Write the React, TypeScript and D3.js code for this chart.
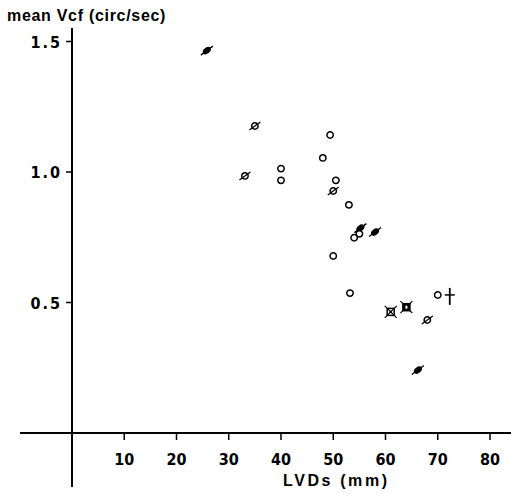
import React, { useEffect, useRef } from 'react';
import * as d3 from 'd3';

// LVDs (mm), mean Vcf (circ/sec), marker kind
const lvds = [25.8, 35.0, 33.1, 40.0, 40.0, 49.4, 48.0, 50.5, 50.0, 53.0, 55.2, 55.0, 54.0, 58.0, 50.0, 53.2, 61.0, 64.0, 68.0, 70.0, 66.2];
const vcf = [1.465, 1.176, 0.985, 1.013, 0.968, 1.142, 1.054, 0.968, 0.927, 0.874, 0.785, 0.763, 0.748, 0.77, 0.678, 0.536, 0.464, 0.482, 0.433, 0.529, 0.241];
const kinds = ['filledSlash', 'slash', 'slash', 'open', 'open', 'open', 'open', 'open', 'slash', 'open', 'filledSlash', 'open', 'open', 'filledSlash', 'open', 'open', 'xsq', 'xsqFilled', 'slash', 'open', 'filledSlash'];
const daggerPoint = [72.3, 0.529];

const xTicks = [10, 20, 30, 40, 50, 60, 70, 80];
const yTicks = [0.5, 1.0, 1.5];

const App = () => {
  const ref = useRef(null);

  useEffect(() => {
    const svg = d3.select(ref.current);
    svg.selectAll('*').remove();

    const x = d3.scaleLinear().domain([0, 80]).range([72, 490]);
    const y = d3.scaleLinear().domain([0, 1.5]).range([433, 41.5]);
    const font = "'Liberation Sans Narrow', 'DejaVu Sans Condensed', 'Liberation Sans', sans-serif";

    // axes lines
    svg.append('line').attr('x1', 20).attr('x2', 511).attr('y1', y(0)).attr('y2', y(0))
      .attr('stroke', 'black').attr('stroke-width', 2);
    svg.append('line').attr('x1', x(0)).attr('x2', x(0)).attr('y1', 28).attr('y2', 487)
      .attr('stroke', 'black').attr('stroke-width', 2);

    xTicks.forEach(t => {
      svg.append('line').attr('x1', x(t)).attr('x2', x(t)).attr('y1', y(0)).attr('y2', y(0) + 7)
        .attr('stroke', 'black').attr('stroke-width', 1.5);
      svg.append('text').attr('x', x(t)).attr('y', 465).attr('text-anchor', 'middle')
        .attr('font-family', font).attr('font-weight', 'bold').attr('font-size', 16)
        .text(t);
    });

    yTicks.forEach(t => {
      svg.append('line').attr('x1', x(0) - 6).attr('x2', x(0)).attr('y1', y(t)).attr('y2', y(t))
        .attr('stroke', 'black').attr('stroke-width', 1.5);
      svg.append('text').attr('x', 62).attr('y', y(t) + 6).attr('text-anchor', 'end')
        .attr('font-family', font).attr('font-weight', 'bold').attr('font-size', 16)
        .attr('letter-spacing', 2)
        .text(t.toFixed(1));
    });

    svg.append('text').attr('x', 7).attr('y', 21)
      .attr('font-family', "'Liberation Sans', sans-serif").attr('font-weight', 'bold').attr('font-size', 16)
      .attr('letter-spacing', 0.7)
      .text('mean Vcf (circ/sec)');

    svg.append('text').attr('x', 283).attr('y', 486)
      .attr('font-family', "'Liberation Sans', sans-serif").attr('font-weight', 'bold').attr('font-size', 16)
      .attr('letter-spacing', 2.6)
      .text('LVDs (mm)');

    const pts = svg.append('g');
    lvds.forEach((lv, i) => {
      const g = pts.append('g').attr('transform', `translate(${x(lv)},${y(vcf[i])})`);
      const k = kinds[i];
      if (k === 'open' || k === 'slash') {
        g.append('circle').attr('r', 3.2).attr('fill', 'white').attr('stroke', 'black').attr('stroke-width', 1.5);
        if (k === 'slash') {
          g.append('line').attr('x1', -5.5).attr('y1', 4).attr('x2', 5.5).attr('y2', -4)
            .attr('stroke', 'black').attr('stroke-width', 1.3);
        }
      } else if (k === 'filledSlash') {
        g.append('ellipse').attr('rx', 4.5).attr('ry', 3).attr('transform', 'rotate(-38)').attr('fill', 'black');
        g.append('line').attr('x1', -6).attr('y1', 4.5).attr('x2', 6).attr('y2', -4.5)
          .attr('stroke', 'black').attr('stroke-width', 1.3);
      } else if (k === 'xsq' || k === 'xsqFilled') {
        g.append('rect').attr('x', -3.5).attr('y', -3.5).attr('width', 7).attr('height', 7)
          .attr('fill', k === 'xsqFilled' ? 'black' : 'white').attr('stroke', 'black').attr('stroke-width', 1.5);
        if (k === 'xsq') g.append('circle').attr('r', 1.3).attr('fill', 'black');
        g.append('line').attr('x1', -6).attr('y1', -6).attr('x2', 6).attr('y2', 6).attr('stroke', 'black').attr('stroke-width', 1.2);
        g.append('line').attr('x1', -6).attr('y1', 6).attr('x2', 6).attr('y2', -6).attr('stroke', 'black').attr('stroke-width', 1.2);
        if (k === 'xsqFilled') g.append('rect').attr('x', -1).attr('y', -1.5).attr('width', 2).attr('height', 3).attr('fill', 'white');
      }
    });

    // dagger
    const dg = pts.append('g').attr('transform', `translate(${x(daggerPoint[0])},${y(daggerPoint[1])})`);
    dg.append('line').attr('x1', 0).attr('x2', 0).attr('y1', -7).attr('y2', 10).attr('stroke', 'black').attr('stroke-width', 1.8);
    dg.append('line').attr('x1', -5).attr('x2', 5).attr('y1', 0).attr('y2', 0).attr('stroke', 'black').attr('stroke-width', 1.5);
  }, []);

  return (
    <svg ref={ref} width={511} height={494}
      style={{ position: 'absolute', left: 0, top: 0, background: 'white' }} />
  );
};

export default App;
